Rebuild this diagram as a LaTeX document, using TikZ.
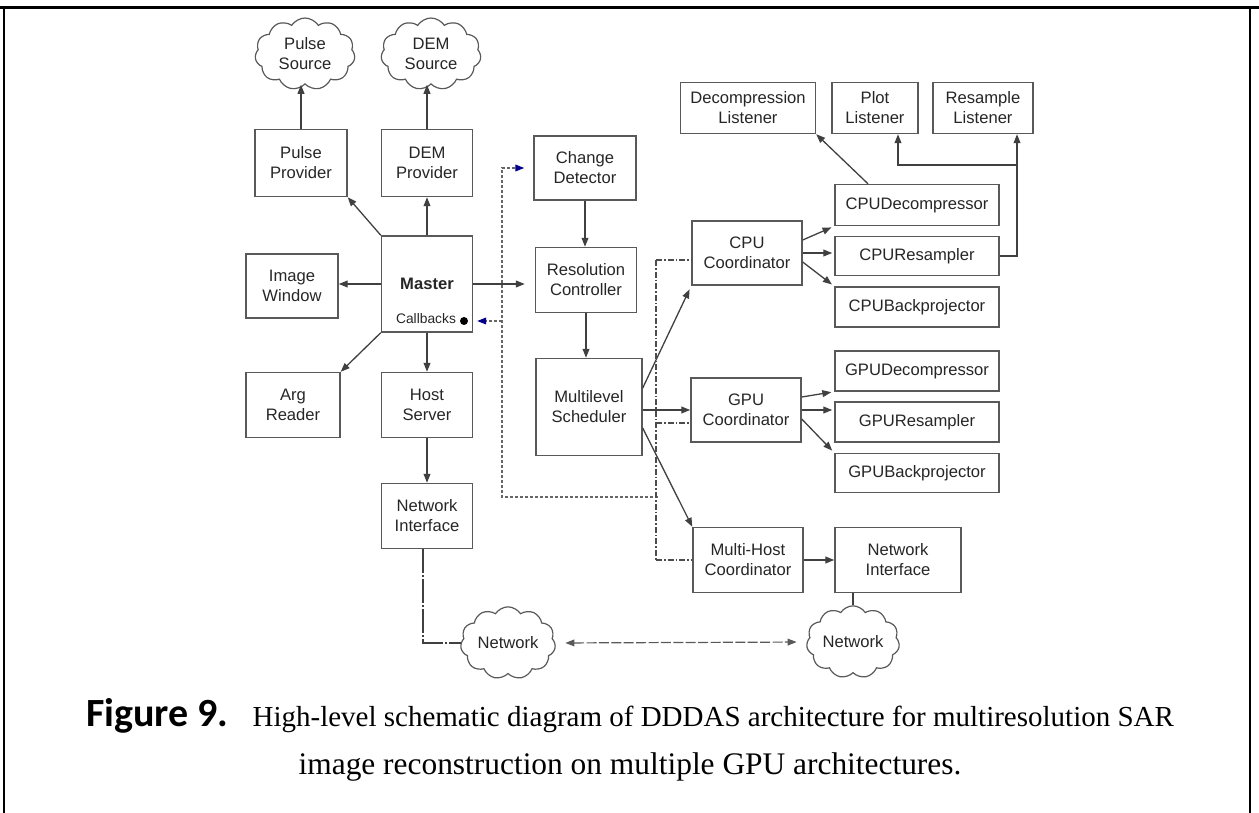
\documentclass[tikz,border=0pt]{standalone}
\usepackage{fontspec}
\setmainfont{Liberation Serif}
\setsansfont{Liberation Sans}
\newfontfamily\capfont{Carlito}
\usetikzlibrary{arrows.meta,calc,positioning,shapes.symbols}

\begin{document}
\begin{tikzpicture}[
  x={(0.5pt,0pt)},
  y={(0pt,-0.5pt)},
  box/.style={draw=black!65,line width=0.7pt,text=black!85,align=center,
    font=\sffamily\fontsize{8.3}{10}\selectfont,inner sep=0pt},
  wh/.style 2 args={minimum width=#1,minimum height=#2},
  cloudnode/.style={cloud,cloud puffs=11,cloud puff arc=115,aspect=1.4,
    draw=black!65,line width=0.6pt,text=black!85,align=center,inner sep=0pt,
    font=\sffamily\fontsize{8.3}{10}\selectfont},
  edge/.style={line width=0.65pt,black!75,-{Triangle[length=4.5pt,width=3.4pt]}},
  plain/.style={line width=0.65pt,black!75},
  feedback/.style={line width=0.6pt,black!60,dash pattern=on 1.6pt off 0.9pt},
  bluetip/.style={-{Triangle[length=4.5pt,width=3.4pt,color=blue!55!black]}},
  bus/.style={line width=0.6pt,black!70,dash pattern=on 3pt off 1pt on 0.8pt off 1pt},
  netlink/.style={line width=0.6pt,black!65,dash pattern=on 5pt off 1.2pt,
    {Triangle[length=4.5pt,width=3.4pt]}-{Triangle[length=4.5pt,width=3.4pt]}},
  captext/.style={inner sep=0pt,anchor=base}
]
\useasboundingbox (0,0) rectangle (1259,813);

% Frame
\draw[line width=1.5pt] (0,8) -- (1259,8);
\draw[line width=0.6pt] (4,8) -- (4,813);
\draw[line width=0.6pt] (1250,8) -- (1250,813);

% Sources
\node[cloudnode,wh={50pt}{36pt}] (pulsesrc) at (305,54) {Pulse\\Source};
\node[cloudnode,wh={50pt}{36pt}] (demsrc) at (431,54) {DEM\\Source};

% Master column
\node[box,wh={46pt}{33.5pt}] (pulseprov) at (301,163) {Pulse\\Provider};
\node[box,wh={45.5pt}{33.5pt}] (demprov) at (427,163) {DEM\\Provider};
\node[box,wh={45.5pt}{48pt}] (master) at (427,284) {\textbf{Master}};
\node[box,wh={46pt}{32pt}] (imgwin) at (292,286) {Image\\Window};
\node[box,wh={47pt}{32.5pt}] (argread) at (293,405) {Arg\\Reader};
\node[box,wh={45.5pt}{32.5pt}] (hostsrv) at (427,405) {Host\\Server};
\node[box,wh={45.5pt}{32.5pt}] (netifl) at (427,516) {Network\\Interface};

% Callbacks inside the master
\node[font=\sffamily\fontsize{6.9}{8}\selectfont,text=black!85,inner sep=0pt]
  (cbtext) at (426,319) {Callbacks};
\node[circle,fill=black,inner sep=0pt,minimum size=4pt] (cbdot) at (464,321) {};

% Resolution chain
\node[box,wh={51pt}{32pt}] (chgdet) at (585,168) {Change\\Detector};
\node[box,wh={50.5pt}{32.5pt}] (rescon) at (586,280) {Resolution\\Controller};
\node[box,wh={53pt}{48.5pt}] (sched) at (589,407) {Multilevel\\Scheduler};

% Coordinators
\node[box,wh={55pt}{32pt}] (cpucoord) at (747,253) {CPU\\Coordinator};
\node[box,wh={55pt}{32pt}] (gpucoord) at (746,410) {GPU\\Coordinator};
\node[box,wh={55pt}{32.5pt}] (mhcoord) at (748,560) {Multi-Host\\Coordinator};
\node[box,wh={63pt}{32.5pt}] (netifr) at (898,560) {Network\\Interface};

% Workers
\node[box,wh={82pt}{20.5pt}] (cpudec) at (917,205) {CPUDecompressor};
\node[box,wh={82pt}{19.5pt}] (cpures) at (917,256) {CPUResampler};
\node[box,wh={82pt}{20pt}] (cpubp) at (917,307) {CPUBackprojector};
\node[box,wh={82pt}{20pt}] (gpudec) at (917,371) {GPUDecompressor};
\node[box,wh={82pt}{20pt}] (gpures) at (917,422) {GPUResampler};
\node[box,wh={82pt}{19.5pt}] (gpubp) at (917,473) {GPUBackprojector};

% Listeners
\node[box,wh={67.5pt}{25.5pt}] (decomplis) at (748,108) {Decompression\\Listener};
\node[box,wh={43pt}{25.5pt}] (plotlis) at (875,108) {Plot\\Listener};
\node[box,wh={50pt}{25.5pt}] (reslis) at (983,108) {Resample\\Listener};

% Networks
\node[cloudnode,wh={47.5pt}{34pt}] (netl) at (508,643) {Network};
\node[cloudnode,wh={46.5pt}{35pt}] (netr) at (853,642) {Network};

% Master connections
\draw[edge] (pulseprov.north) -- (pulseprov.north |- pulsesrc.south);
\draw[edge] (demprov.north) -- (demprov.north |- demsrc.south);
\draw[edge] (master.north west) -- (pulseprov.south east);
\draw[edge] (master.north) -- (demprov.south);
\draw[edge] (master.west) -- (master.west -| imgwin.east);
\draw[edge] (master.south west) -- (argread.north east);
\draw[edge] (master.south) -- (hostsrv.north);
\draw[edge] (hostsrv.south) -- (netifl.north);
\draw[edge,shorten >=5pt] (master.east) -- (master.east -| rescon.west);

% Resolution chain
\draw[edge] (chgdet.south) -- (chgdet.south |- rescon.north);
\draw[edge] (rescon.south) -- (rescon.south |- sched.north);
\draw[edge,shorten >=2pt] ($(sched.east)+(0,-19)$) -- (cpucoord.south west);
\draw[edge] (sched.east |- gpucoord.west) -- (gpucoord.west);
\draw[edge] ($(sched.east)+(0,21)$) -- (mhcoord.north west);

% Workers
\foreach \c/\w in {cpu/cpu,gpu/gpu}{
  \draw[edge,shorten >=1.5pt] ($(\c coord.east)+(0,-13)$) -- (\w dec.south west);
  \draw[edge,shorten >=1pt] (\c coord.east) -- (\c coord.east -| \w res.west);
  \draw[edge,shorten >=1.5pt] ($(\c coord.east)+(0,9)$) -- (\w bp.north west);
}
\draw[edge] (mhcoord.east) -- (mhcoord.east -| netifr.west);

% Listeners
\coordinate (lisjoin) at (1017,165);
\draw[edge] ($(cpudec.north)+(-49,0)$) -- (decomplis.south east);
\draw[edge] (cpures.east) -| ([xshift=17pt]reslis.south);
\draw[edge] (lisjoin) -| ([xshift=11.5pt]plotlis.south);

% Feedback to callbacks and change detector
\coordinate (fbtop) at (502,168);
\coordinate (fbcb) at (502,321);
\coordinate (fbbot) at (502,497);
\coordinate (busjoin) at (658,497);
\coordinate (buscpu) at (656,260);
\coordinate (busgpu) at (656,423);
\coordinate (busmh) at (656,560);
\draw[feedback,bluetip,shorten >=4.5pt] (busjoin) -- (fbbot) -- (fbtop) -- (chgdet.west);
\draw[feedback,bluetip,shorten >=2pt] (fbcb) -- (fbcb -| master.east);
\draw[bus] (buscpu) -- (busmh);
\draw[bus] (buscpu) -- (buscpu -| cpucoord.west);
\draw[bus] (busgpu) -- (busgpu -| gpucoord.west);
\draw[bus] (busmh) -- (busmh -| mhcoord.west);

% Network links
\draw[plain,dash pattern=on 12pt off 1pt on 1pt off 1pt]
  ([xshift=-2pt]netifl.south) |- (netl.west);
\draw[plain] (netifr.south -| netr.north) -- (netr.north);
\draw[netlink,shorten <=5pt,shorten >=5pt] (netl.east) -- (netr.west);

% Caption
\node[captext] (cap1) at (630,726)
  {{\capfont\bfseries\fontsize{20}{24}\selectfont Figure 9.}\hspace{12pt}%
   {\fontsize{14.5}{24}\selectfont High-level schematic diagram of DDDAS architecture for multiresolution SAR}};
\node[captext,font=\fontsize{15.7}{24}\selectfont] (cap2) at (630,774)
  {image reconstruction on multiple GPU architectures.};
\end{tikzpicture}
\end{document}
